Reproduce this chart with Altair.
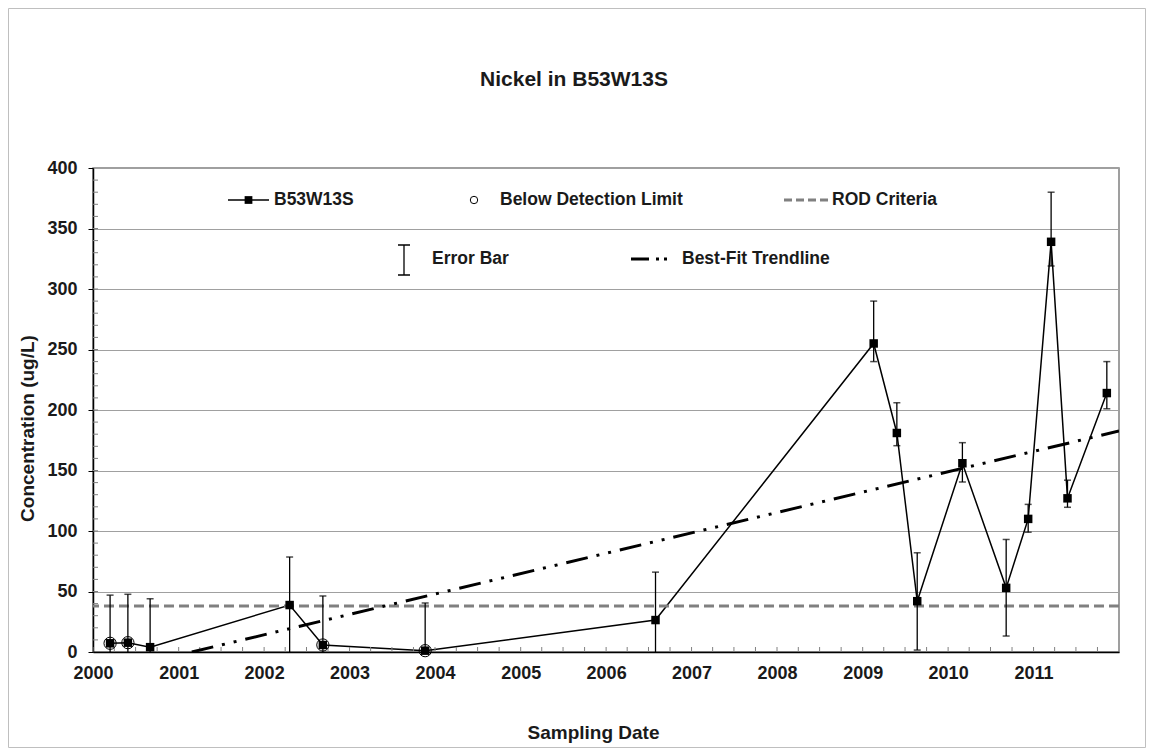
import altair as alt
import pandas as pd

# ---- data ----
dates = ["2000-03-14", "2000-05-29", "2000-09-01", "2002-04-20", "2002-09-09",
         "2003-11-20", "2006-07-31", "2009-02-17", "2009-05-27", "2009-08-22",
         "2010-03-03", "2010-09-06", "2010-12-09", "2011-03-17", "2011-05-26",
         "2011-11-10"]
values = [7.2, 7.7, 4.0, 38.8, 5.8, 1.1, 26.4, 255, 181, 42, 156, 53, 110, 339, 127, 214]
err_low = [0, 0, 0, 0, 0, 0, 0, 240, 170.5, 1.6, 140.5, 13.2, 99, 319, 119.6, 201]
err_high = [47, 47.7, 44, 78.5, 46.3, 40.5, 66, 290, 206, 82, 173, 93, 122, 380, 142, 240]
below_dl = [True, True, False, False, True, True, False, False, False, False,
            False, False, False, False, False, False]
rod_criteria = 38
trend_dates = ["2001-02-26", "2012-01-01"]
trend_values = [0, 182.6]
year_ticks = list(range(2000, 2012))
y_ticks = [0, 50, 100, 150, 200, 250, 300, 350, 400]
y_minor = list(range(10, 400, 10))
x_minor = [f"{y}-{m:02d}-01" for y in year_ticks for m in (1, 4, 7, 10)]

title_text = "Nickel in B53W13S"
legend_labels = ["B53W13S", "Below Detection Limit", "ROD Criteria", "Error Bar", "Best-Fit Trendline"]

df = pd.DataFrame({"date": dates, "value": values, "low": err_low,
                   "high": err_high, "bdl": below_dl})
trend_df = pd.DataFrame({"date": trend_dates, "value": trend_values})
rod_df = pd.DataFrame({"value": [rod_criteria]})
ymin_df = pd.DataFrame({"value": y_minor})
xmin_df = pd.DataFrame({"date": x_minor})
one = pd.DataFrame({"k": [0]})

W, H = 1026, 484
FONT = "Liberation Sans"

x_scale = alt.Scale(type="utc", nice=False,
                    domain=[alt.DateTime(year=2000, month=1, date=1, utc=True),
                            alt.DateTime(year=2012, month=1, date=1, utc=True)])
y_scale = alt.Scale(domain=[0, 400], nice=False)

x_axis = alt.Axis(values=[alt.DateTime(year=y, month=1, date=1, utc=True) for y in year_ticks],
                  format="%Y", formatType="utc", tickSize=0, labelPadding=12,
                  labelFlush=False, labelFontSize=18, labelFontWeight="bold",
                  labelColor="#1a1a1a", grid=False, domainColor="#000000", domainWidth=1.5,
                  title="Sampling Date", titleFontSize=19, titleFontWeight="bold",
                  titleColor="#1a1a1a", titleX=500, titleY=80, titleBaseline="middle")
y_axis = alt.Axis(values=y_ticks, tickSize=5, tickColor="#000000", labelPadding=11,
                  labelFontSize=18, labelFontWeight="bold", labelColor="#1a1a1a",
                  grid=True, gridColor="#a0a0a0", gridWidth=1,
                  domainColor="#000000", domainWidth=1.5,
                  title="Concentration (ug/L)", titleFontSize=19, titleFontWeight="bold",
                  titleColor="#1a1a1a", titleX=-66, titleY=260, titleBaseline="middle")

X = alt.X("date:T", scale=x_scale, axis=x_axis)
Y = lambda f: alt.Y(f"{f}:Q", scale=y_scale, axis=y_axis)

base = alt.Chart(df)

# minor ticks
y_minor_ticks = alt.Chart(ymin_df).mark_rule(color="#808080", strokeWidth=1).encode(
    y=Y("value"), x=alt.value(0), x2=alt.value(5))
x_minor_ticks = alt.Chart(xmin_df).mark_rule(color="#808080", strokeWidth=1).encode(
    x=X, y=alt.value(H), y2=alt.value(H - 5))

rod = alt.Chart(rod_df).mark_rule(color="#808080", strokeWidth=3, strokeDash=[10, 5]).encode(
    y=Y("value"))

trend = alt.Chart(trend_df).mark_line(color="#000000", strokeWidth=3, clip=True,
                                      strokeDash=[22, 9, 3, 9, 3, 9]).encode(x=X, y=Y("value"))

err_rule = base.mark_rule(color="#000000", strokeWidth=1.3).encode(
    x=X, y=Y("low"), y2="high:Q")
cap_hi = base.mark_tick(orient="horizontal", size=7, thickness=1.5, color="#000000").encode(
    x=X, y=Y("high"))
cap_lo = base.transform_filter("datum.low > 0").mark_tick(
    orient="horizontal", size=7, thickness=1.5, color="#000000").encode(x=X, y=Y("low"))

line = base.mark_line(color="#000000", strokeWidth=1.5).encode(x=X, y=Y("value"))
squares = base.mark_point(shape="square", filled=True, size=72, color="#000000", opacity=1).encode(
    x=X, y=Y("value"))
circles = base.transform_filter("datum.bdl").mark_point(
    shape="circle", filled=False, size=150, color="#000000", strokeWidth=1, opacity=1).encode(
    x=X, y=Y("value"))

# title and frame
title = alt.Chart(one).mark_text(text=title_text, font=FONT, fontSize=21, fontWeight="bold",
                                 color="#1a1a1a", align="center", baseline="middle").encode(
    x=alt.value(481), y=alt.value(-88))
frame = alt.Chart(one).mark_rect(fill="transparent", stroke="#bfbfbf", strokeWidth=1).encode(
    x=alt.value(-84.5), x2=alt.value(W + 26.5), y=alt.value(-159.5), y2=alt.value(H + 95.5))

# legend
def ltext(label, x, y):
    return alt.Chart(one).mark_text(text=label, font=FONT, fontSize=17.5, fontWeight="bold",
                                    color="#1a1a1a", align="left", baseline="middle").encode(
        x=alt.value(x), y=alt.value(y))

def lrule(x1, x2, y1, y2, **kw):
    return alt.Chart(one).mark_rule(**kw).encode(
        x=alt.value(x1), x2=alt.value(x2), y=alt.value(y1), y2=alt.value(y2))

r1, r2 = 32, 91
legend = [
    lrule(135, 176, r1, r1, color="#000000", strokeWidth=1.5),
    alt.Chart(one).mark_point(shape="square", filled=True, size=60, color="#000000", opacity=1).encode(
        x=alt.value(155.5), y=alt.value(r1)),
    ltext(legend_labels[0], 181, r1),
    alt.Chart(one).mark_point(shape="circle", filled=False, size=55, color="#000000",
                              strokeWidth=1, opacity=1).encode(x=alt.value(381), y=alt.value(r1)),
    ltext(legend_labels[1], 407, r1),
    lrule(691, 737, r1, r1, color="#808080", strokeWidth=3, strokeDash=[8, 4]),
    ltext(legend_labels[2], 739, r1),
    lrule(311, 311, 77, 107, color="#000000", strokeWidth=1.3),
    lrule(305, 317, 77, 77, color="#000000", strokeWidth=1.5),
    lrule(305, 317, 107, 107, color="#000000", strokeWidth=1.5),
    ltext(legend_labels[3], 339, r2),
    lrule(538, 576, r2, r2, color="#000000", strokeWidth=3, strokeDash=[18, 7, 3, 5, 3, 5]),
    ltext(legend_labels[4], 589, r2),
]

chart = alt.layer(
    line, y_minor_ticks, x_minor_ticks, rod, trend, err_rule, cap_hi, cap_lo,
    squares, circles, title, frame, *legend
).properties(
    width=W, height=H, autosize="none",
    padding={"left": 85, "top": 160, "right": 27, "bottom": 96},
    background="#ffffff",
).configure_view(stroke="#808080", strokeWidth=1.5).configure_axis(
    labelFont=FONT, titleFont=FONT
).configure_text(font=FONT)

chart.save("out.html", embed_options={"renderer": "svg", "actions": False})
